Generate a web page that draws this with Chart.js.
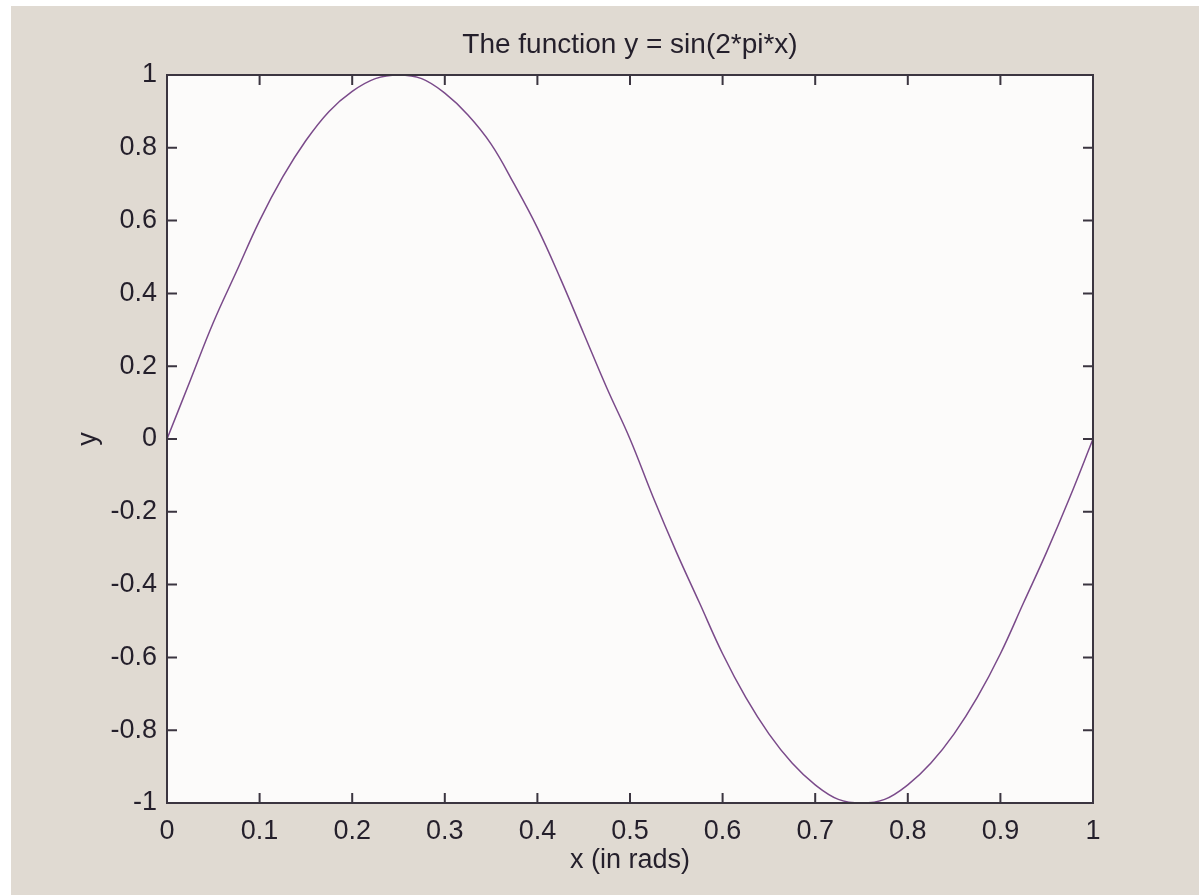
<!DOCTYPE html>
<html>
<head>
<meta charset="utf-8">
<script src="https://cdn.jsdelivr.net/npm/chart.js@4/dist/chart.umd.min.js"></script>
<style>
  html, body { margin: 0; padding: 0; background: #ffffff; overflow: hidden; }
  #frame { position: absolute; left: 11px; top: 6px; width: 1188px; height: 889px; background: #e0dad2; overflow: hidden; }
  canvas { display: block; }
</style>
</head>
<body>
<div id="frame"><canvas id="chart" width="1238" height="889"></canvas></div>
<script>
'use strict';

// values
const xValues = [0, 0.025, 0.05, 0.075, 0.1, 0.125, 0.15, 0.175, 0.2, 0.225, 0.25,
  0.275, 0.3, 0.325, 0.35, 0.375, 0.4, 0.425, 0.45, 0.475, 0.5,
  0.525, 0.55, 0.575, 0.6, 0.625, 0.65, 0.675, 0.7, 0.725, 0.75,
  0.775, 0.8, 0.825, 0.85, 0.875, 0.9, 0.925, 0.95, 0.975, 1];
const yValues = [0, 0.16, 0.32, 0.46, 0.6, 0.72, 0.82, 0.9, 0.955, 0.99, 1.0,
  0.99, 0.95, 0.89, 0.81, 0.7, 0.58, 0.44, 0.29, 0.14, 0,
  -0.16, -0.31, -0.45, -0.59, -0.71, -0.81, -0.89, -0.95, -0.99, -1.0,
  -0.99, -0.95, -0.89, -0.81, -0.71, -0.59, -0.45, -0.31, -0.16, 0];
const xTicks = [0, 0.1, 0.2, 0.3, 0.4, 0.5, 0.6, 0.7, 0.8, 0.9, 1];
const yTicks = [-1, -0.8, -0.6, -0.4, -0.2, 0, 0.2, 0.4, 0.6, 0.8, 1];

const TEXT = '#241f2b';
const AXIS = '#3b3540';
const FONT = "'Liberation Sans', Arial, sans-serif";

// white plot box, dark frame and inward ticks on all four sides
const boxPlugin = {
  id: 'box',
  beforeDatasetsDraw(chart) {
    const { ctx, chartArea: a } = chart;
    ctx.save();
    ctx.fillStyle = '#fcfbfa';
    ctx.fillRect(a.left, a.top, a.right - a.left, a.bottom - a.top);
    ctx.restore();
  },
  afterDatasetsDraw(chart) {
    const { ctx, chartArea: a, scales } = chart;
    const len = 10;
    ctx.save();
    ctx.strokeStyle = AXIS;
    ctx.lineWidth = 2;
    ctx.beginPath();
    xTicks.forEach(v => {
      const px = scales.x.getPixelForValue(v);
      ctx.moveTo(px, a.bottom); ctx.lineTo(px, a.bottom - len);
      ctx.moveTo(px, a.top); ctx.lineTo(px, a.top + len);
    });
    yTicks.forEach(v => {
      const py = scales.y.getPixelForValue(v);
      ctx.moveTo(a.left, py); ctx.lineTo(a.left + len, py);
      ctx.moveTo(a.right, py); ctx.lineTo(a.right - len, py);
    });
    ctx.stroke();
    ctx.strokeRect(a.left, a.top, a.right - a.left, a.bottom - a.top);
    ctx.restore();
  }
};

const fmt = v => String(Math.round(v * 10) / 10);

new Chart(document.getElementById('chart'), {
  type: 'line',
  data: {
    datasets: [{
      data: xValues.map((x, i) => ({ x, y: yValues[i] })),
      borderColor: '#7a4a8a',
      borderWidth: 1.5,
      pointRadius: 0,
      tension: 0.4,
      fill: false,
    }],
  },
  options: {
    responsive: false,
    animation: false,
    layout: { padding: 0 },
    plugins: {
      legend: { display: false },
      tooltip: { enabled: false },
      title: {
        display: true,
        text: 'The function y = sin(2*pi*x)',
        color: TEXT,
        font: { family: FONT, size: 28, weight: 'normal', lineHeight: 1.2 },
        padding: { top: 22, bottom: 13.4 },
      },
    },
    scales: {
      x: {
        type: 'linear',
        min: 0, max: 1,
        grid: { display: false, drawTicks: false },
        border: { display: false },
        afterBuildTicks: s => { s.ticks = xTicks.map(v => ({ value: v })); },
        afterFit: s => { s.height = 92; },
        ticks: { color: TEXT, font: { family: FONT, size: 27 }, padding: 12, maxRotation: 0, autoSkip: false, callback: fmt },
        title: { display: true, text: 'x (in rads)', color: TEXT, font: { family: FONT, size: 27 }, padding: { top: 0, bottom: 18 } },
      },
      y: {
        type: 'linear',
        min: -1, max: 1,
        grid: { display: false, drawTicks: false },
        border: { display: false },
        afterBuildTicks: s => { s.ticks = yTicks.map(v => ({ value: v })); },
        afterFit: s => { s.width = 156; },
        ticks: { color: TEXT, font: { family: FONT, size: 27 }, padding: 10, autoSkip: false, callback: fmt },
        title: { display: true, text: 'y', color: TEXT, font: { family: FONT, size: 27 }, padding: { top: 61, bottom: 0 } },
      },
      // empty right-hand box so the title centres over the plot
      y2: {
        type: 'linear',
        position: 'right',
        min: -1, max: 1,
        grid: { display: false, drawTicks: false },
        border: { display: false },
        ticks: { display: false },
        afterFit: s => { s.width = 156; },
      },
    },
  },
  plugins: [boxPlugin],
});
</script>
</body>
</html>
